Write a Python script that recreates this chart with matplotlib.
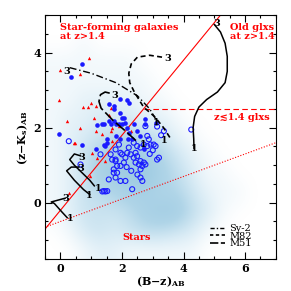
import numpy as np
import matplotlib
matplotlib.use('Agg')
import matplotlib.pyplot as plt
from matplotlib.colors import LinearSegmentedColormap
from matplotlib.lines import Line2D

# densidad aproximada de la nube de fondo (celdas de 0.5 mag), filas de arriba hacia abajo
dens_x = [-0.5, 7.0]
dens_y = [-1.5, 5.0]
densidad = [
    [0, 0, 0, 0, 0, 0, 0, 0, 0, 0, 0, 0, 0, 0, 0],
    [0, 0, 1, 0, 0, 0, 0, 0, 0, 0, 0, 0, 0, 0, 0],
    [1, 1, 1, 1, 1, 1, 0, 0, 0, 0, 0, 0, 0, 0, 0],
    [1, 1, 1, 1, 1, 1, 1, 0, 0, 0, 0, 0, 0, 0, 0],
    [1, 1, 2, 2, 2, 2, 1, 1, 0, 0, 0, 0, 0, 0, 0],
    [1, 2, 2, 3, 3, 3, 2, 2, 1, 0, 0, 0, 0, 0, 0],
    [1, 2, 3, 4, 5, 6, 5, 4, 2, 1, 0, 0, 0, 0, 0],
    [1, 2, 4, 6, 8, 8, 8, 6, 4, 2, 1, 0, 0, 0, 0],
    [1, 2, 4, 7, 8, 9, 9, 7, 5, 3, 1, 1, 0, 0, 0],
    [1, 2, 4, 5, 6, 7, 7, 6, 6, 4, 2, 1, 1, 0, 0],
    [1, 2, 4, 4, 4, 5, 7, 8, 8, 5, 3, 1, 0, 0, 0],
    [0, 1, 3, 4, 3, 4, 5, 5, 4, 3, 1, 0, 0, 0, 0],
    [0, 0, 1, 2, 2, 1, 1, 1, 1, 1, 0, 0, 0, 0, 0],
]

# circulos azules rellenos
llenos_x = [0.70, 0.35, 1.95, 2.17, -0.05, 1.19, 1.73, 2.06, 2.11, 2.17, 1.79, 1.95, 1.52, 1.46,
            2.21, 2.76, 2.60, 1.57, 1.73, 1.57, 1.36, 2.00, 2.00, 2.22, 1.73, 1.95, 1.79, 2.76,
            1.90, 2.38, 2.49, 2.22, 2.33, 2.71, 3.09, 1.41, 1.63, 0.70, 1.52, 1.14, 1.41]
llenos_y = [3.71, 3.36, 2.77, 2.75, 1.82, 2.06, 2.18, 2.27, 2.13, 2.00, 1.78, 1.69, 1.69, 1.51,
            1.69, 2.09, 1.78, 2.64, 2.51, 2.18, 2.09, 2.27, 2.09, 2.67, 2.58, 2.40, 2.09, 2.22,
            2.09, 2.09, 1.91, 1.87, 1.69, 1.42, 2.13, 2.09, 2.09, 1.55, 1.60, 1.42, 1.55]

# circulos azules abiertos
abiertos_x = [1.79, 1.84, 1.73, 1.95, 2.06, 2.11, 2.17, 2.00, 2.28, 2.38, 2.44, 2.55, 2.60, 2.66,
              2.71, 2.76, 2.49, 2.22, 2.49, 2.60, 2.71, 2.82, 2.93, 2.87, 3.14, 2.60, 2.60, 2.66,
              2.33, 2.11, 1.95, 1.68, 1.79, 2.76, 2.44, 0.27, 0.65, 1.79, 1.84, 1.73, 1.57, 1.36,
              1.46, 1.79, 1.95, 1.63, 1.41, 1.52, 3.09, 3.20, 3.14, 3.36, 3.27, 2.82, 3.03, 4.25,
              2.38, 1.30, 2.30, 2.90, 2.15, 1.90, 2.50, 3.00]
abiertos_y = [0.67, 0.80, 0.89, 0.98, 1.07, 1.20, 1.33, 1.29, 1.29, 1.20, 1.07, 1.02, 1.11, 0.98,
              1.07, 1.02, 1.24, 1.47, 1.51, 1.47, 1.55, 1.51, 1.55, 1.69, 1.15, 0.89, 0.67, 0.58,
              0.36, 0.58, 0.58, 1.15, 1.11, 2.04, 1.33, 1.64, 1.02, 1.15, 0.98, 0.80, 0.62, 0.30,
              0.30, 1.42, 1.33, 1.29, 0.31, 0.31, 1.51, 1.20, 2.03, 1.91, 1.80, 1.78, 1.55, 1.95,
              1.60, 1.29, 0.85, 1.30, 0.95, 1.55, 0.75, 1.40]

# triangulos rojos
triang_x = [0.92, -0.02, 0.63, -0.05, 0.74, 0.89, 1.00, 1.14, 1.63, 1.57, 0.65, 1.14, 1.63, 0.43,
            1.36, 1.90, 1.08, 1.03, 1.46, 0.27, 0.22, 0.46, 1.19, 0.95, 1.68, 1.68, 2.28]
triang_y = [3.87, 3.54, 3.42, 2.75, 2.56, 2.56, 2.65, 2.58, 2.53, 2.35, 2.00, 1.91, 1.91, 1.60,
            1.82, 2.04, 2.27, 1.33, 1.11, 0.27, 2.18, 1.58, 1.20, 0.71, 1.64, 2.00, 1.91]

# trayectorias de plantillas (z=3 -> z=1)
sy2_x = [0.30, 1.00, 1.80, 2.50, 2.90, 3.10]
sy2_y = [3.60, 3.45, 3.20, 2.85, 2.50, 2.22]
m82_x = [3.30, 2.90, 2.50, 2.30, 2.22, 2.25, 2.40, 2.70, 3.05, 3.35, 3.60]
m82_y = [3.88, 3.93, 3.88, 3.70, 3.45, 3.20, 2.95, 2.55, 2.30, 2.00, 1.68]
m51_x = [1.60, 1.45, 1.30, 1.25, 1.32, 1.70, 2.10, 2.50]
m51_y = [2.92, 2.95, 2.88, 2.70, 2.52, 2.20, 1.92, 1.62]
elip_x = [5.00, 5.20, 5.35, 5.42, 5.42, 5.35, 5.10, 4.75, 4.50, 4.36, 4.31, 4.33, 4.34]
elip_y = [4.75, 4.55, 4.25, 3.90, 3.50, 3.20, 2.95, 2.75, 2.55, 2.30, 2.00, 1.70, 1.45]
jov1_x = [0.65, 0.45, 0.30, 0.45, 0.70, 0.95, 1.10]
jov1_y = [1.25, 1.30, 1.15, 1.00, 0.80, 0.60, 0.45]
jov2_x = [0.60, 0.35, 0.20, 0.45, 0.75, 0.95]
jov2_y = [0.95, 0.95, 0.85, 0.60, 0.35, 0.22]
jov3_x = [0.15, -0.30, -0.20, 0.05, 0.22]
jov3_y = [0.12, 0.02, -0.02, -0.25, -0.40]

plt.rcParams['font.family'] = ['DejaVu Serif', 'DejaVu Sans']

fig = plt.figure(figsize=(2.91, 2.91), dpi=100)
ax = fig.add_axes([0.155, 0.110, 0.793, 0.838])

cmap = LinearSegmentedColormap.from_list('nube', ['#ffffff', '#d8ebf5', '#b0d5e8', '#9ccae2'])
ax.imshow(np.array(densidad, dtype=float), extent=[dens_x[0], dens_x[1], dens_y[0], dens_y[1]],
          cmap=cmap, vmin=0, vmax=9, interpolation='bicubic', aspect='auto', zorder=0)

# lineas de seleccion BzK
xs = np.array([-0.5, 7.0])
ax.plot(xs, xs - 0.2, color='red', lw=0.8, zorder=2)
ax.plot([2.7, 7.0], [2.5, 2.5], color='red', lw=0.8, ls=(0, (5, 3)), zorder=2)
xd = np.array([-0.43, 7.0])
ax.plot(xd, 0.3 * xd - 0.5, color='red', lw=0.8, ls=(0, (1, 1.5)), zorder=2)

ax.scatter(triang_x, triang_y, marker='^', s=6, color='red', lw=0, zorder=3)
ax.scatter(abiertos_x, abiertos_y, marker='o', s=13, facecolors='none', edgecolors='#1a1aff', lw=0.8, zorder=3)
ax.scatter(llenos_x, llenos_y, marker='o', s=11, color='#1a1aff', lw=0, zorder=3)

ax.plot(sy2_x, sy2_y, color='k', lw=1.0, ls=(0, (5, 2, 1, 2)), zorder=4)
ax.plot(m82_x, m82_y, color='k', lw=1.2, ls=(0, (3, 2)), zorder=4)
ax.plot(m51_x, m51_y, color='k', lw=1.2, ls=(0, (7, 2)), zorder=4)
for tx, ty in [(elip_x, elip_y), (jov1_x, jov1_y), (jov2_x, jov2_y), (jov3_x, jov3_y)]:
    ax.plot(tx, ty, color='k', lw=1.1, zorder=4)

etiq = dict(fontsize=7, fontweight='bold', color='k', zorder=5, ha='center', va='center')
ax.text(0.2, 3.5, '3', **etiq)
ax.text(3.5, 3.85, '3', **etiq)
ax.text(1.75, 2.85, '3', **etiq)
ax.text(5.07, 4.78, '3', **etiq)
ax.text(0.68, 1.2, '3', **etiq)
ax.text(0.65, 0.92, '3', **etiq)
ax.text(0.17, 0.1, '3', **etiq)
ax.text(3.12, 2.15, '1', **etiq)
ax.text(3.38, 1.65, '1', **etiq)
ax.text(2.68, 1.55, '1', **etiq)
ax.text(4.36, 1.45, '1', **etiq)
ax.text(1.22, 0.38, '1', **etiq)
ax.text(0.92, 0.18, '1', **etiq)
ax.text(0.3, -0.43, '1', **etiq)

txt = dict(fontsize=7, fontweight='bold', color='red', zorder=5)
ax.text(0.0, 4.78, 'Star-forming galaxies\nat z>1.4', va='top', ha='left', linespacing=0.95, **txt)
ax.text(5.5, 4.78, 'Old glxs\nat z>1.4', va='top', ha='left', linespacing=0.95, **txt)
ax.text(5.0, 2.27, 'z\u22721.4 glxs', va='center', ha='left', **txt)
ax.text(2.0, -0.93, 'Stars', va='center', ha='left', **txt)

handles = [Line2D([], [], color='k', lw=1.0, ls=(0, (3, 1.5, 1, 1.5))),
           Line2D([], [], color='k', lw=1.2, ls=(0, (2, 1.5))),
           Line2D([], [], color='k', lw=1.2, ls=(0, (5, 1.5)))]
ax.legend(handles, ['Sy-2', 'M82', 'M51'], loc='lower right', bbox_to_anchor=(0.92, 0.02),
          frameon=False, fontsize=7, handlelength=1.6, handletextpad=0.4, labelspacing=-0.15,
          borderpad=0.1)

ax.set_xlim(-0.5, 7.0)
ax.set_ylim(-1.5, 5.0)
ax.set_xticks([0, 2, 4, 6])
ax.set_yticks([0, 2, 4])
ax.set_xticks(np.arange(-0.5, 7.01, 0.5), minor=True)
ax.set_yticks(np.arange(-1.5, 5.01, 0.5), minor=True)
ax.tick_params(which='both', direction='in', top=True, right=True, width=0.8)
ax.tick_params(which='major', length=5, labelsize=8, pad=3)
ax.tick_params(which='minor', length=2.5)
for lab in ax.get_xticklabels() + ax.get_yticklabels():
    lab.set_fontweight('bold')
for s in ax.spines.values():
    s.set_linewidth(0.8)

ax.set_xlabel('(B\u2212z)$_{\\mathregular{AB}}$', fontsize=8, fontweight='bold', labelpad=0)
ax.set_ylabel('(z\u2212K$_{\\mathregular{s}}$)$_{\\mathregular{AB}}$', fontsize=8, fontweight='bold', labelpad=2)

fig.savefig('out.png', dpi=100)
